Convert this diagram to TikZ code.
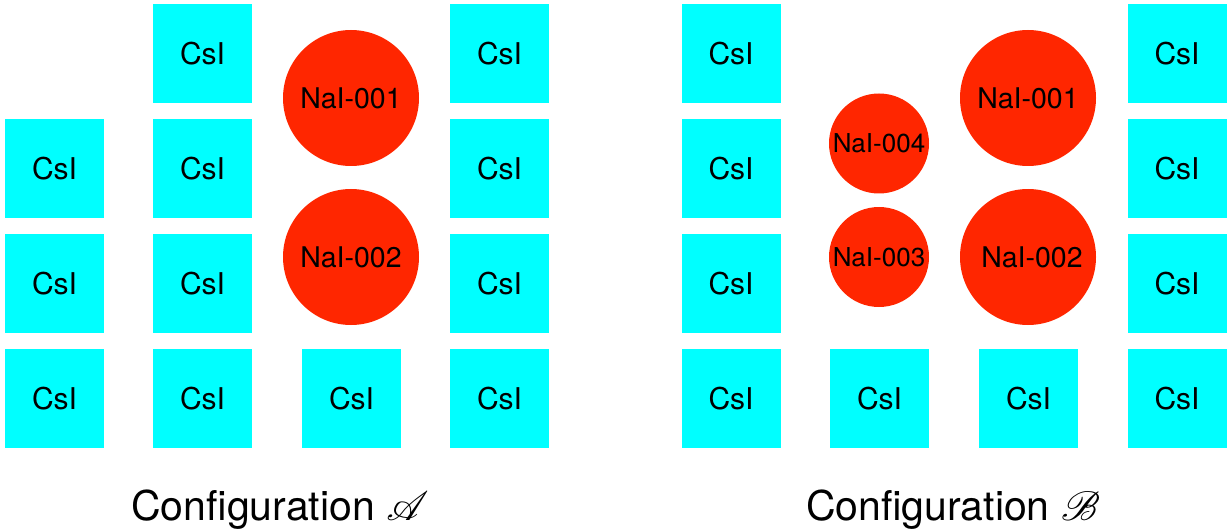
\documentclass[tikz,border=0pt]{standalone}
\usepackage{fontspec}
\setmainfont{TeX Gyre Heros}
\usepackage{mathrsfs}
\DeclareFontFamily{U}{rsfs}{\skewchar\font127 }
\DeclareFontShape{U}{rsfs}{m}{n}{<-6> rsfs5 <6-8> rsfs7 <8-> rsfs10}{}
\usepackage{xcolor}
\definecolor{CsICyan}{HTML}{00FFFF}
\definecolor{NaIRed}{HTML}{FF2600}
\usetikzlibrary{positioning}

\begin{document}
\begin{tikzpicture}[x=1pt,y=-1pt,
    csibox/.style={rectangle,fill=CsICyan,minimum size=99pt,inner sep=0pt,
                   font=\fontsize{30}{32}\selectfont},
    naibig/.style={circle,fill=NaIRed,minimum size=136pt,inner sep=0pt,
                   font=\fontsize{28.5}{30}\selectfont},
    naismall/.style={naibig,minimum size=100pt,
                   font=\fontsize{26}{28}\selectfont},
    configlabel/.style={anchor=base,font=\fontsize{41}{44}\selectfont}]
  \useasboundingbox (0,0) rectangle (1227,532);
  % configuration A: CsI crystals
  \node[csibox] (a12) at (202.5,53.5)  {CsI};
  \node[csibox] (a14) at (499.5,53.5)  {CsI};
  \node[csibox] (a21) at (54.5,168.5)  {CsI};
  \node[csibox] (a22) at (202.5,168.5) {CsI};
  \node[csibox] (a24) at (499.5,168.5) {CsI};
  \node[csibox] (a31) at (54.5,283.5)  {CsI};
  \node[csibox] (a32) at (202.5,283.5) {CsI};
  \node[csibox] (a34) at (499.5,283.5) {CsI};
  \node[csibox] (a41) at (54.5,398.5)  {CsI};
  \node[csibox] (a42) at (202.5,398.5) {CsI};
  \node[csibox] (a43) at (351.5,398.5) {CsI};
  \node[csibox] (a44) at (499.5,398.5) {CsI};
  % configuration A: NaI crystals
  \node[naibig] (anai1) at (351,98)  {NaI-001};
  \node[naibig] (anai2) at (351,257) {NaI-002};
  % configuration B: CsI crystals
  \node[csibox] (b11) at (731,53.5)    {CsI};
  \node[csibox] (b14) at (1177,53.5)   {CsI};
  \node[csibox] (b21) at (731,168.5)   {CsI};
  \node[csibox] (b24) at (1177,168.5)  {CsI};
  \node[csibox] (b31) at (731,283.5)   {CsI};
  \node[csibox] (b34) at (1177,283.5)  {CsI};
  \node[csibox] (b41) at (731,398.5)   {CsI};
  \node[csibox] (b42) at (879.5,398.5) {CsI};
  \node[csibox] (b43) at (1028.5,398.5) {CsI};
  \node[csibox] (b44) at (1177,398.5)  {CsI};
  % configuration B: NaI crystals
  \node[naibig] (bnai1) at (1028,98)  {NaI-001};
  \node[naibig] (bnai2) at (1028,257) {\hspace*{8pt}NaI-002};
  \node[naismall] (bnai4) at (879,143.5) {NaI-004};
  \node[naismall] (bnai3) at (879,257)   {NaI-003};
  % captions
  \node[configlabel] (capa) at (280,520) {Configuration $\mathscr{A}$};
  \node[configlabel] (capb) at (953,520) {Configuration $\mathscr{B}$};
\end{tikzpicture}
\end{document}
